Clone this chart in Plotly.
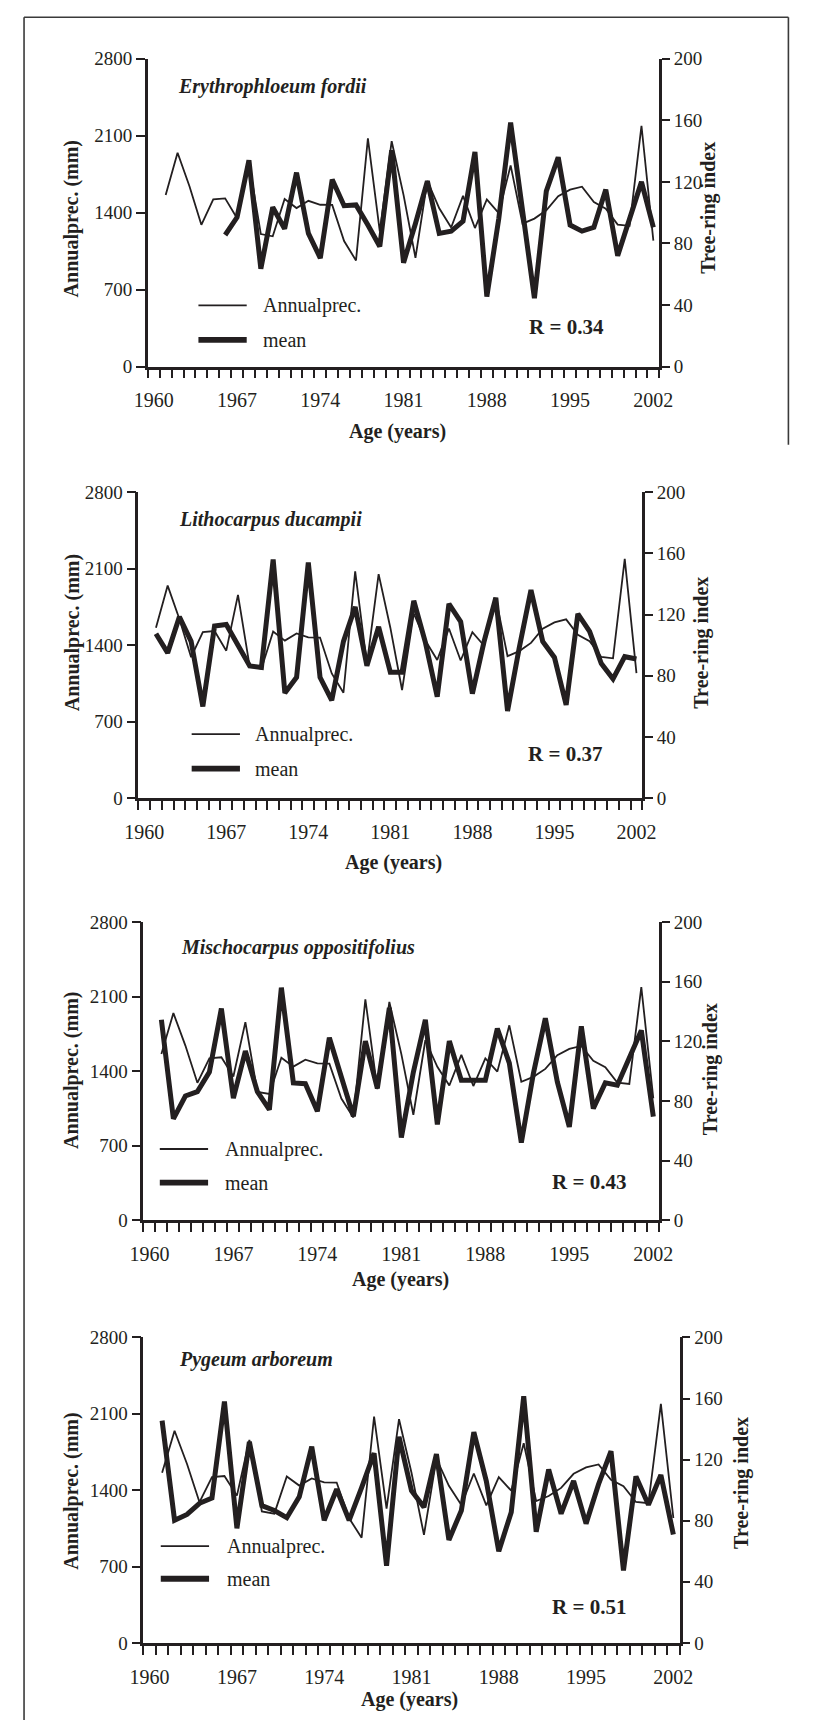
import plotly.graph_objects as go

# ---------------------------------------------------------------- data
years = list(range(1961, 2003))

annual_prec = [
    1560, 1945, 1640, 1290, 1520, 1530, 1350, 1860, 1205, 1185,
    1525, 1442, 1508, 1472, 1470, 1142, 965, 2075, 1230, 2050,
    1560, 990, 1690, 1440, 1265, 1553, 1260, 1520, 1395, 1830,
    1300, 1346, 1421, 1550, 1609, 1636, 1496, 1436, 1292, 1280,
    2190, 1145,
]

mean_erythrophloeum = [
    None, None, None, None, None, 85.5, 97.0, 134.0, 63.5, 103.5,
    89.5, 126.0, 86.5, 70.5, 121.5, 104.5, 105.0, 92.0, 78.0, 140.5,
    67.5, 93.0, 120.5, 86.5, 88.0, 94.5, 139.5, 45.5, 96.0, 158.5,
    99.5, 44.5, 114.0, 136.0, 92.0, 88.0, 90.5, 115.0, 72.0, 96.0,
    120.0, 90.5,
]

mean_lithocarpus = [
    107.5, 95.0, 118.5, 102.5, 60.0, 112.5, 113.5, 100.5, 86.5, 85.5,
    156.0, 68.8, 79.0, 154.0, 79.0, 64.0, 102.5, 125.0, 86.5, 112.0,
    82.3, 82.3, 129.0, 101.5, 66.3, 127.0, 115.4, 68.4, 102.5, 131.0,
    57.0, 98.3, 136.0, 102.5, 92.0, 61.0, 120.5, 109.0, 88.0, 78.0,
    92.5, 91.0,
]

mean_mischocarpus = [
    134.5, 68.0, 83.3, 86.2, 99.3, 142.0, 81.8, 113.5, 86.2, 74.1,
    156.0, 92.1, 91.6, 73.0, 122.4, 96.0, 69.7, 120.2, 88.4, 142.5,
    55.5, 99.3, 134.5, 64.2, 120.2, 93.8, 93.8, 93.8, 128.6, 105.3,
    52.0, 98.2, 135.5, 92.7, 62.6, 130.0, 74.9, 92.1, 90.5, 108.1,
    127.3, 69.5,
]

mean_pygeum = [
    145.5, 80.3, 84.1, 91.4, 94.9, 158.0, 75.0, 131.7, 89.9, 86.7,
    82.0, 95.7, 128.5, 80.3, 100.6, 80.3, 101.7, 124.2, 50.5, 134.9,
    99.6, 88.9, 123.6, 67.4, 86.7, 138.0, 106.0, 60.0, 85.6, 161.5,
    72.8, 113.5, 84.6, 106.0, 78.1, 103.9, 125.5, 47.5, 109.0, 90.5,
    109.9, 71.0,
]

species = [
    "Erythrophloeum fordii",
    "Lithocarpus ducampii",
    "Mischocarpus oppositifolius",
    "Pygeum arboreum",
]
mean_series = [mean_erythrophloeum, mean_lithocarpus, mean_mischocarpus, mean_pygeum]
r_labels = ["R = 0.34", "R = 0.37", "R = 0.43", "R = 0.51"]

year_labels = [1960, 1967, 1974, 1981, 1988, 1995, 2002]
prec_ticks = [0, 700, 1400, 2100, 2800]
index_ticks = [0, 40, 80, 120, 160, 200]
legend_names = ["Annualprec.", "mean"]

# ---------------------------------------------------------------- layout geometry (pixels)
W, H = 814, 1731
INK = "#231f20"
FONT = "Liberation Serif, Times New Roman, Times, serif"

panel_boxes = [  # left, right, top, bottom of each plotting area
    (138.6, 668.3, 49.3, 361.0),
    (128.8, 650.7, 488.0, 798.0),
    (134.0, 668.3, 923.3, 1225.0),
    (134.0, 689.3, 1343.7, 1653.0),
]
title_pos = [(168, 77), (169, 516), (171, 949), (169, 1366)]
legend_pos = [(191, 256, 299, 334), (184, 248, 733, 768), (151, 216, 1153, 1187), (152, 218, 1555, 1588)]
r_pos = [(572, 321), (571, 753), (596, 1186), (595, 1617)]
ylab_left_pos = [(60, 211), (60, 630), (60, 1073), (60, 1499)]
ylab_right_pos = [(719, 200), (712, 641), (722, 1072), (754, 1491)]
xlab_pos = [(397, 427), (393, 863), (400, 1285), (410, 1710)]


def px(x):
    return x / W


def py(y):
    return 1 - y / H


fig = go.Figure()
layout = dict(
    width=W, height=H,
    margin=dict(l=0, r=0, t=0, b=0),
    paper_bgcolor="white", plot_bgcolor="rgba(0,0,0,0)",
    showlegend=False,
    font=dict(family=FONT, color=INK),
)
annotations = []
shapes = []

boundaries = [1959.5 + k for k in range(44)]

for i, (x0, x1, y0, y1) in enumerate(panel_boxes):
    xid = "x" if i == 0 else f"x{i + 1}"
    xkey = "xaxis" if i == 0 else f"xaxis{i + 1}"
    n_left, n_right, n_inner = 3 * i + 1, 3 * i + 2, 3 * i + 3
    yl = "y" if n_left == 1 else f"y{n_left}"
    ylkey = "yaxis" if n_left == 1 else f"yaxis{n_left}"

    layout[xkey] = dict(
        domain=[px(x0), px(x1)], range=[1959.5, 2002.5], anchor=yl,
        tickmode="array", tickvals=year_labels, ticks="",
        ticklabelstandoff=14,
        tickfont=dict(size=20, family=FONT, color=INK),
        showline=True, linecolor=INK, linewidth=2.5,
        showgrid=False, zeroline=False,
        minor=dict(tickmode="array", tickvals=boundaries, ticks="outside",
                   ticklen=9, tickwidth=1.6, tickcolor=INK, showgrid=False),
    )
    layout[ylkey] = dict(
        domain=[py(y1), py(y0)], range=[0, 2800], anchor=xid,
        tickmode="array", tickvals=prec_ticks, ticks="outside",
        ticklen=9, tickwidth=1.6, tickcolor=INK,
        tickfont=dict(size=19, family=FONT, color=INK),
        showline=True, linecolor=INK, linewidth=2.5,
        showgrid=False, zeroline=False,
    )
    layout[f"yaxis{n_right}"] = dict(
        overlaying=yl, side="right", anchor=xid, range=[0, 200],
        tickmode="array", tickvals=index_ticks, ticks="outside",
        ticklen=8, tickwidth=1.6, tickcolor=INK,
        tickfont=dict(size=19, family=FONT, color=INK),
        showline=True, linecolor=INK, linewidth=2.5,
        showgrid=False, zeroline=False,
    )
    # inward half of the crossing ticks on the tree-ring axis
    layout[f"yaxis{n_inner}"] = dict(
        overlaying=yl, side="right", anchor=xid, range=[0, 200],
        tickmode="array", tickvals=index_ticks, ticks="inside",
        ticklen=8, tickwidth=1.6, tickcolor=INK, showticklabels=False,
        showline=False, showgrid=False, zeroline=False,
    )

    fig.add_trace(go.Scatter(
        x=years, y=annual_prec, mode="lines", name=legend_names[0],
        line=dict(color=INK, width=1.8), xaxis=xid, yaxis=yl,
    ))
    fig.add_trace(go.Scatter(
        x=years, y=mean_series[i], mode="lines", name=legend_names[1],
        line=dict(color=INK, width=5.0), xaxis=xid, yaxis=f"y{n_right}",
        connectgaps=False,
    ))

    # species name
    tx, ty = title_pos[i]
    annotations.append(dict(
        text=f"<b><i>{species[i]}</i></b>", x=px(tx), y=py(ty),
        xref="paper", yref="paper", xanchor="left", yanchor="middle",
        showarrow=False, font=dict(size=20, family=FONT, color=INK),
    ))
    # legend
    lx0, ltx, ly_thin, ly_thick = legend_pos[i]
    for name, width, ly in ((legend_names[0], 1.8, ly_thin), (legend_names[1], 5.8, ly_thick)):
        shapes.append(dict(
            type="line", xref="paper", yref="paper",
            x0=px(lx0), x1=px(lx0 + 50), y0=py(ly), y1=py(ly),
            line=dict(color=INK, width=width),
        ))
        annotations.append(dict(
            text=name, x=px(ltx), y=py(ly), xref="paper", yref="paper",
            xanchor="left", yanchor="middle", showarrow=False,
            font=dict(size=20, family=FONT, color=INK),
        ))
    # correlation
    rx, ry = r_pos[i]
    annotations.append(dict(
        text=f"<b>{r_labels[i]}</b>", x=px(rx), y=py(ry),
        xref="paper", yref="paper", xanchor="center", yanchor="middle",
        showarrow=False, font=dict(size=21, family=FONT, color=INK),
    ))
    # axis titles
    ax_, ay_ = ylab_left_pos[i]
    annotations.append(dict(
        text="<b>Annualprec. (mm)</b>", x=px(ax_), y=py(ay_), textangle=-90,
        xref="paper", yref="paper", xanchor="center", yanchor="middle",
        showarrow=False, font=dict(size=20, family=FONT, color=INK),
    ))
    bx, by = ylab_right_pos[i]
    annotations.append(dict(
        text="<b>Tree-ring index</b>", x=px(bx), y=py(by), textangle=-90,
        xref="paper", yref="paper", xanchor="center", yanchor="middle",
        showarrow=False, font=dict(size=20, family=FONT, color=INK),
    ))
    cx, cy = xlab_pos[i]
    annotations.append(dict(
        text="<b>Age (years)</b>", x=px(cx), y=py(cy),
        xref="paper", yref="paper", xanchor="center", yanchor="middle",
        showarrow=False, font=dict(size=20, family=FONT, color=INK),
    ))

# page frame
frame = dict(color="#3a3a3a", width=1.6)
shapes += [
    dict(type="line", xref="paper", yref="paper", x0=px(10.4), x1=px(10.4), y0=py(7.3), y1=0, line=frame),
    dict(type="line", xref="paper", yref="paper", x0=px(10.4), x1=px(802), y0=py(7.3), y1=py(7.3), line=frame),
    dict(type="line", xref="paper", yref="paper", x0=px(802), x1=px(802), y0=py(7.3), y1=py(440), line=frame),
]

layout["annotations"] = annotations
layout["shapes"] = shapes
fig.update_layout(**layout)
fig.write_html("out.html")
